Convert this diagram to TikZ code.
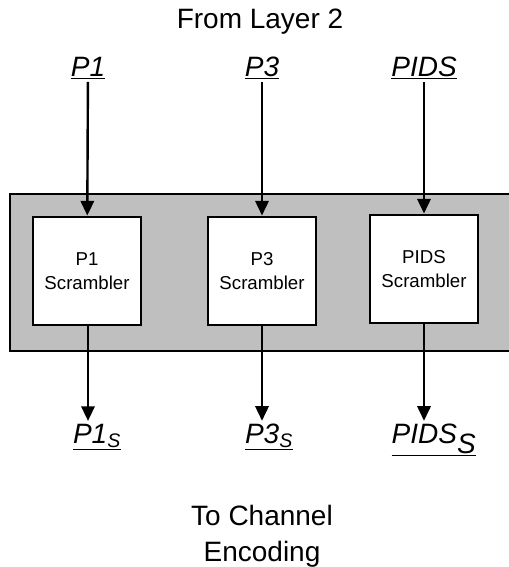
\documentclass[tikz,border=0pt]{standalone}
\usepackage{fontspec}
\setmainfont{Liberation Sans}
\usetikzlibrary{arrows.meta}

\tikzset{
  scrbox/.style={draw, line width=2.2pt, fill=white, minimum width=81pt, minimum height=81pt, align=center, font=\fontsize{14}{18}\selectfont},
  sig/.style={font=\fontsize{21}{24}\selectfont\itshape, inner sep=2pt},
  flow/.style={line width=1.8pt, -{Triangle[width=10pt,length=11pt]}}
}

\begin{document}
\begin{tikzpicture}[x=0.75pt,y=-0.75pt]
    \useasboundingbox (0,0) rectangle (508,567);

    % Titel
    \node[font=\fontsize{21}{25}\selectfont] (src) at (260,22) {From Layer 2};
    \node[font=\fontsize{21}{27}\selectfont, align=center] (dst) at (262,536) {To Channel\\Encoding};
    % Band
    \draw[line width=2.2pt, fill=black!25] (10,194) rectangle (515,351);
    % Scrambler
    \node[scrbox] (s1) at (87,271) {P1\\Scrambler};
    \node[scrbox] (s3) at (262,271) {P3\\Scrambler};
    \node[scrbox] (sp) at (424,269) {PIDS\\Scrambler};
    % Eingaenge
    \node[sig] (i1) at (88,68) {\underline{P1}};
    \node[sig] (i3) at (262,68) {\underline{P3}};
    \node[sig] (ip) at (424,68) {\underline{PIDS}};
    % Ausgaenge
    \node[sig] (o1) at (97,437) {\underline{P1\textsubscript{S}}};
    \node[sig] (o3) at (269,437) {\underline{P3\textsubscript{S}}};
    \node[sig] (op) at (434,440) {\underline{PIDS$_{\textit{S}}$}};
    % Pfeile
    \draw[flow] (i1) -- (s1);
    \draw[flow] (i3) -- (s3);
    \draw[flow] (ip) -- (sp);
    \draw[flow] (s1.south -| i1) -- (i1 |- o1.north);
    \draw[flow] (s3) -- (s3 |- o3.north);
    \draw[flow] (sp) -- (sp |- op.north);
\end{tikzpicture}
\end{document}
